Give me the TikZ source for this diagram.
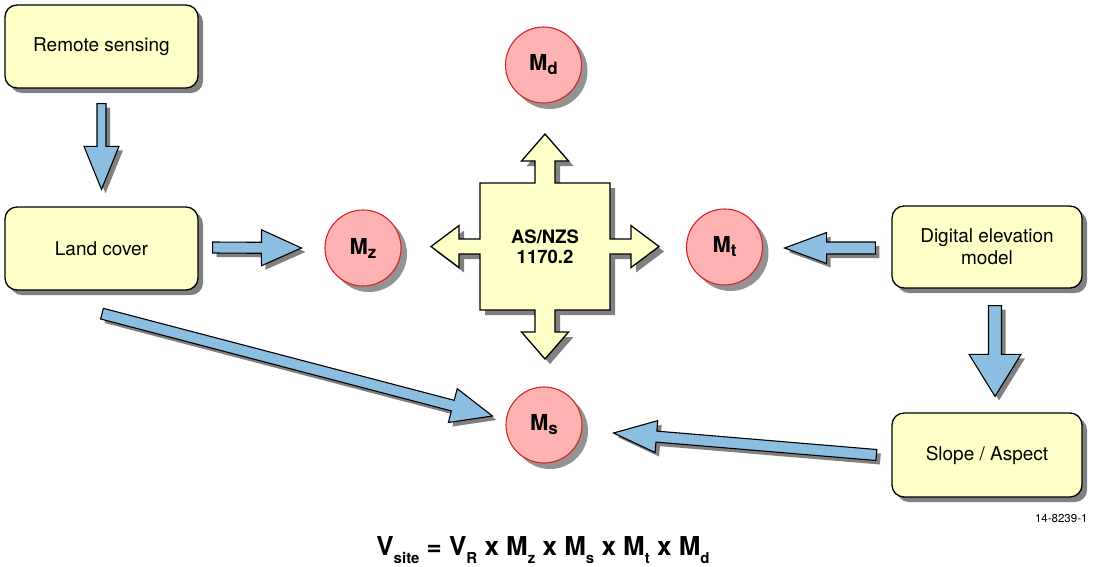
\documentclass[tikz,border=0pt]{standalone}
\usepackage{fontspec}
\setmainfont{TeX Gyre Heros}
\usetikzlibrary{calc,shadows}

\definecolor{boxyellow}{RGB}{255,255,200}
\definecolor{circpink}{RGB}{255,178,178}
\definecolor{circred}{RGB}{215,35,35}
\definecolor{arrowblue}{RGB}{140,190,225}
\definecolor{shadowgray}{RGB}{128,128,128}

\tikzset{
  shade5/.style={drop shadow={shadow xshift=5pt, shadow yshift=-5pt, fill=shadowgray, opacity=1}},
  infobox/.style={draw=black, line width=1.3pt, fill=boxyellow, rounded corners=12pt,
    minimum width=192pt, minimum height=83pt, align=center,
    font=\fontsize{19}{22}\selectfont, shade5},
  factor/.style={circle, draw=circred, line width=1.1pt, fill=circpink, minimum size=76pt,
    inner sep=0pt, font=\bfseries\fontsize{22}{22}\selectfont,
    drop shadow={shadow xshift=6pt, shadow yshift=-6pt, fill=shadowgray, opacity=0.85}},
  barrow/.style={draw=black, line width=1.1pt, fill=arrowblue, line join=miter,
    drop shadow={shadow xshift=4pt, shadow yshift=-4pt, fill=shadowgray, opacity=1}},
  hub/.style={draw=black, line width=1.3pt, fill=boxyellow, line join=miter, shade5}
}

% lowered, smaller subscript: drop, size, text
\newcommand\lowsub[3]{\raisebox{-#1}{\fontsize{#2}{#2}\selectfont #3}}

% block arrow: tail, tip, shaft half-width, head half-width, head length
\newcommand\bkarrow[5]{%
  \coordinate (headbase) at ($(#2)!#5!(#1)$);
  \draw[barrow] ($(#1)!#3!90:(#2)$) -- ($(headbase)!#3!90:(#2)$)
    -- ($(headbase)!#4!90:(#2)$) -- (#2) -- ($(headbase)!#4!-90:(#2)$)
    -- ($(headbase)!#3!-90:(#2)$) -- ($(#1)!#3!-90:(#2)$) -- cycle;
}

\begin{document}
\begin{tikzpicture}[x=1pt,y=-1pt]
\useasboundingbox (0,0) rectangle (1094,566);

% input boxes
\node[infobox, minimum width=193pt] (rs) at (101.5,46.5) {Remote sensing};
\node[infobox, minimum width=193pt] (lc) at (101.5,248.5) {Land cover};
\node[infobox, minimum width=190pt, minimum height=82pt] (dem) at (987,247) {Digital elevation\\model};
\node[infobox, minimum width=190pt, minimum height=84pt] (sa) at (987,455) {Slope / Aspect};

% standard hub: square with four arrow arms
\coordinate (hubc) at (545,246.5);
\draw[hub, shift={(hubc)}]
  (-65,-63.5) -- (-10,-63.5) -- (-10,-85.5) -- (-23.5,-85.5) -- (0,-112.5)
  -- (23.5,-85.5) -- (10,-85.5) -- (10,-63.5) -- (65,-63.5)
  -- (65,-7.5) -- (86,-7.5) -- (86,-21) -- (114,0) -- (86,21) -- (86,7.5) -- (65,7.5)
  -- (65,63.5) -- (10,63.5) -- (10,85.5) -- (23.5,85.5) -- (0,112.5)
  -- (-23.5,85.5) -- (-10,85.5) -- (-10,63.5) -- (-65,63.5)
  -- (-65,7.5) -- (-86,7.5) -- (-86,21) -- (-114,0) -- (-86,-21) -- (-86,-7.5) -- (-65,-7.5)
  -- cycle;
\node[font=\bfseries\fontsize{18.5}{19.5}\selectfont, align=center] (std) at (hubc) {AS/NZS\\1170.2};

% multipliers
\node[factor] (md) at (543.5,65) {M\lowsub{4pt}{17}{d}};
\node[factor] (mz) at (363,248) {M\lowsub{4pt}{17}{z}};
\node[factor] (mt) at (724.5,247) {M\lowsub{4pt}{17}{t}};
\node[factor] (ms) at (544,425) {M\lowsub{4pt}{17}{s}};

% connectors
\coordinate (rsOut) at ($(rs.south)+(0,15)$);
\coordinate (lcIn) at ($(lc.north)+(0,-17)$);
\bkarrow{rsOut}{lcIn}{4.5pt}{17.5pt}{43pt}

\coordinate (lcOut) at ($(lc.east)+(14,-1)$);
\coordinate (mzIn) at ($(mz.west)+(-23,0)$);
\bkarrow{lcOut}{mzIn}{5.5pt}{18pt}{40pt}

\coordinate (demOut) at ($(dem.west)+(-16,1)$);
\coordinate (mtIn) at ($(mt.east)+(21.5,1)$);
\bkarrow{demOut}{mtIn}{6pt}{15.5pt}{42pt}

\coordinate (demDown) at ($(dem.south)+(8,17)$);
\coordinate (saIn) at ($(sa.north)+(8,-16)$);
\bkarrow{demDown}{saIn}{6.5pt}{26pt}{42pt}

\coordinate (lcDiag) at ($(lc.south)+(0.5,23)$);
\coordinate (msInL) at ($(ms.west)+(-13,-9)$);
\bkarrow{lcDiag}{msInL}{5.5pt}{17.5pt}{41pt}

\coordinate (saOut) at ($(sa.west)+(-15,0)$);
\coordinate (msInR) at ($(ms.east)+(31,8)$);
\bkarrow{saOut}{msInR}{5.5pt}{16pt}{43pt}

% formula and figure tag
\node[anchor=base, font=\bfseries\fontsize{26}{26}\selectfont] (eq) at (543,555)
  {V\lowsub{8pt}{15}{site} = V\lowsub{8pt}{15}{R} x M\lowsub{8pt}{15}{z} x M\lowsub{8pt}{15}{s} x M\lowsub{8pt}{15}{t} x M\lowsub{8pt}{15}{d}};
\node[anchor=east, font=\fontsize{11.5}{12}\selectfont] (tag) at (1091,518) {14-8239-1};
\end{tikzpicture}
\end{document}
